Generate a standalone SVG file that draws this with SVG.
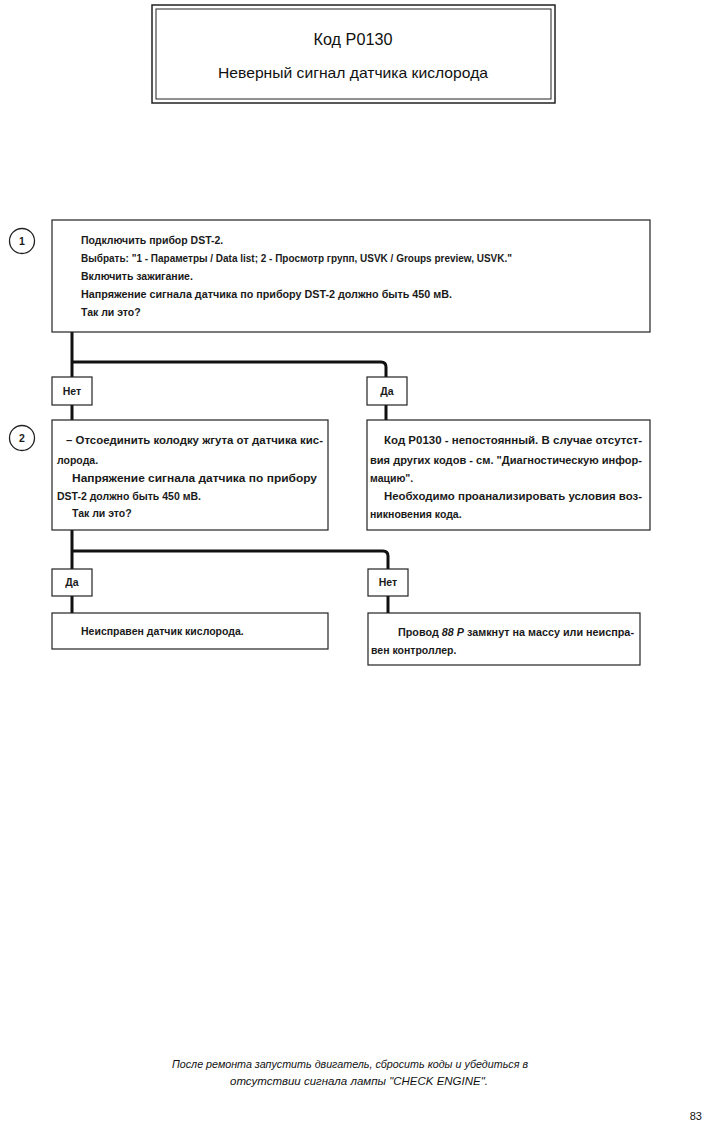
<svg xmlns="http://www.w3.org/2000/svg" width="705" height="1126" viewBox="0 0 705 1126">
<style>
.box{fill:#fff;stroke:#222;stroke-width:1.2}
.lbl{fill:#fff;stroke:#222;stroke-width:1.2}
.t{font-family:"Liberation Sans",Arial,sans-serif;font-size:10.5px;font-weight:bold;fill:#1a1a1a}
.c{font-family:"Liberation Sans",Arial,sans-serif;font-size:10.5px;font-weight:bold;fill:#1a1a1a;text-anchor:middle}
.conn{fill:none;stroke:#111;stroke-width:3}
.f{font-family:"Liberation Sans",Arial,sans-serif;font-size:10.5px;font-style:italic;fill:#111;text-anchor:middle}
</style>
<rect width="705" height="1126" fill="#fff"/>
<g id="title">
<rect x="152" y="5" width="403" height="98" fill="none" stroke="#222" stroke-width="1.5"/>
<rect x="156" y="9" width="395" height="90" fill="none" stroke="#222" stroke-width="1"/>
<text x="353" y="45" font-family="Liberation Sans,Arial,sans-serif" font-size="17" text-anchor="middle" fill="#111" textLength="79" lengthAdjust="spacingAndGlyphs">Код P0130</text>
<text x="353" y="78" font-family="Liberation Sans,Arial,sans-serif" font-size="14.5" text-anchor="middle" fill="#111" textLength="270" lengthAdjust="spacingAndGlyphs">Неверный сигнал датчика кислорода</text>
</g>
<g id="connectors">
<path class="conn" d="M72 332 V420"/>
<path class="conn" d="M72 362 H381 Q386 362 386 367 V420"/>
<path class="conn" d="M72 530 V613"/>
<path class="conn" d="M72 551 H383 Q388 551 388 556 V613"/>
</g>
<g id="step1">
<circle cx="22" cy="241" r="12.5" fill="#fff" stroke="#222" stroke-width="1.3"/>
<text class="c" x="22" y="245">1</text>
<rect class="box" x="52" y="220" width="598" height="112"/>
<text class="t" x="81" y="244">Подключить прибор DST-2.</text>
<text class="t" x="81" y="262" textLength="431" lengthAdjust="spacingAndGlyphs">Выбрать: "1 - Параметры / Data list; 2 - Просмотр групп, USVK / Groups preview, USVK."</text>
<text class="t" x="81" y="280">Включить зажигание.</text>
<text class="t" x="81" y="298" textLength="371" lengthAdjust="spacingAndGlyphs">Напряжение сигнала датчика по прибору DST-2 должно быть 450 мВ.</text>
<text class="t" x="81" y="316">Так ли это?</text>
</g>
<g id="no1">
<rect class="lbl" x="52" y="377" width="40" height="28"/>
<text class="c" x="72" y="395">Нет</text>
</g>
<g id="yes1">
<rect class="lbl" x="367" y="377" width="40" height="28"/>
<text class="c" x="387" y="395">Да</text>
</g>
<g id="step2">
<circle cx="22" cy="438" r="12.5" fill="#fff" stroke="#222" stroke-width="1.3"/>
<text class="c" x="22" y="442">2</text>
<rect class="box" x="52" y="420" width="276" height="110"/>
<text class="t" x="66" y="444" textLength="257" lengthAdjust="spacingAndGlyphs">– Отсоединить колодку жгута от датчика кис-</text>
<text class="t" x="57" y="464">лорода.</text>
<text class="t" x="72" y="482" textLength="245" lengthAdjust="spacingAndGlyphs">Напряжение сигнала датчика по прибору</text>
<text class="t" x="57" y="500">DST-2 должно быть 450 мВ.</text>
<text class="t" x="72" y="517">Так ли это?</text>
</g>
<g id="result1">
<rect class="box" x="367" y="420" width="283" height="110"/>
<text class="t" x="384" y="444" textLength="258" lengthAdjust="spacingAndGlyphs">Код P0130 - непостоянный. В случае отсутст-</text>
<text class="t" x="370" y="464" textLength="272" lengthAdjust="spacingAndGlyphs">вия других кодов - см. "Диагностическую инфор-</text>
<text class="t" x="370" y="482">мацию".</text>
<text class="t" x="384" y="500" textLength="258" lengthAdjust="spacingAndGlyphs">Необходимо проанализировать условия воз-</text>
<text class="t" x="370" y="518">никновения кода.</text>
</g>
<g id="yes2">
<rect class="lbl" x="52" y="569" width="40" height="27"/>
<text class="c" x="72" y="586">Да</text>
</g>
<g id="no2">
<rect class="lbl" x="368" y="569" width="40" height="27"/>
<text class="c" x="388" y="586">Нет</text>
</g>
<g id="result2">
<rect class="box" x="52" y="613" width="276" height="36"/>
<text class="t" x="81" y="635">Неисправен датчик кислорода.</text>
</g>
<g id="result3">
<rect class="box" x="368" y="613" width="272" height="52"/>
<text class="t" x="398" y="636" textLength="236" lengthAdjust="spacingAndGlyphs">Провод <tspan font-style="italic">88 P</tspan> замкнут на массу или неиспра-</text>
<text class="t" x="371" y="654">вен контроллер.</text>
</g>
<g id="footer">
<text class="f" x="350" y="1068" textLength="356" lengthAdjust="spacingAndGlyphs">После ремонта запустить двигатель, сбросить коды и убедиться в</text>
<text class="f" x="359" y="1085" textLength="258" lengthAdjust="spacingAndGlyphs">отсутствии сигнала лампы "CHECK ENGINE".</text>
<text x="702" y="1120" font-family="Liberation Sans,Arial,sans-serif" font-size="11" text-anchor="end" fill="#111">83</text>
</g>
</svg>
